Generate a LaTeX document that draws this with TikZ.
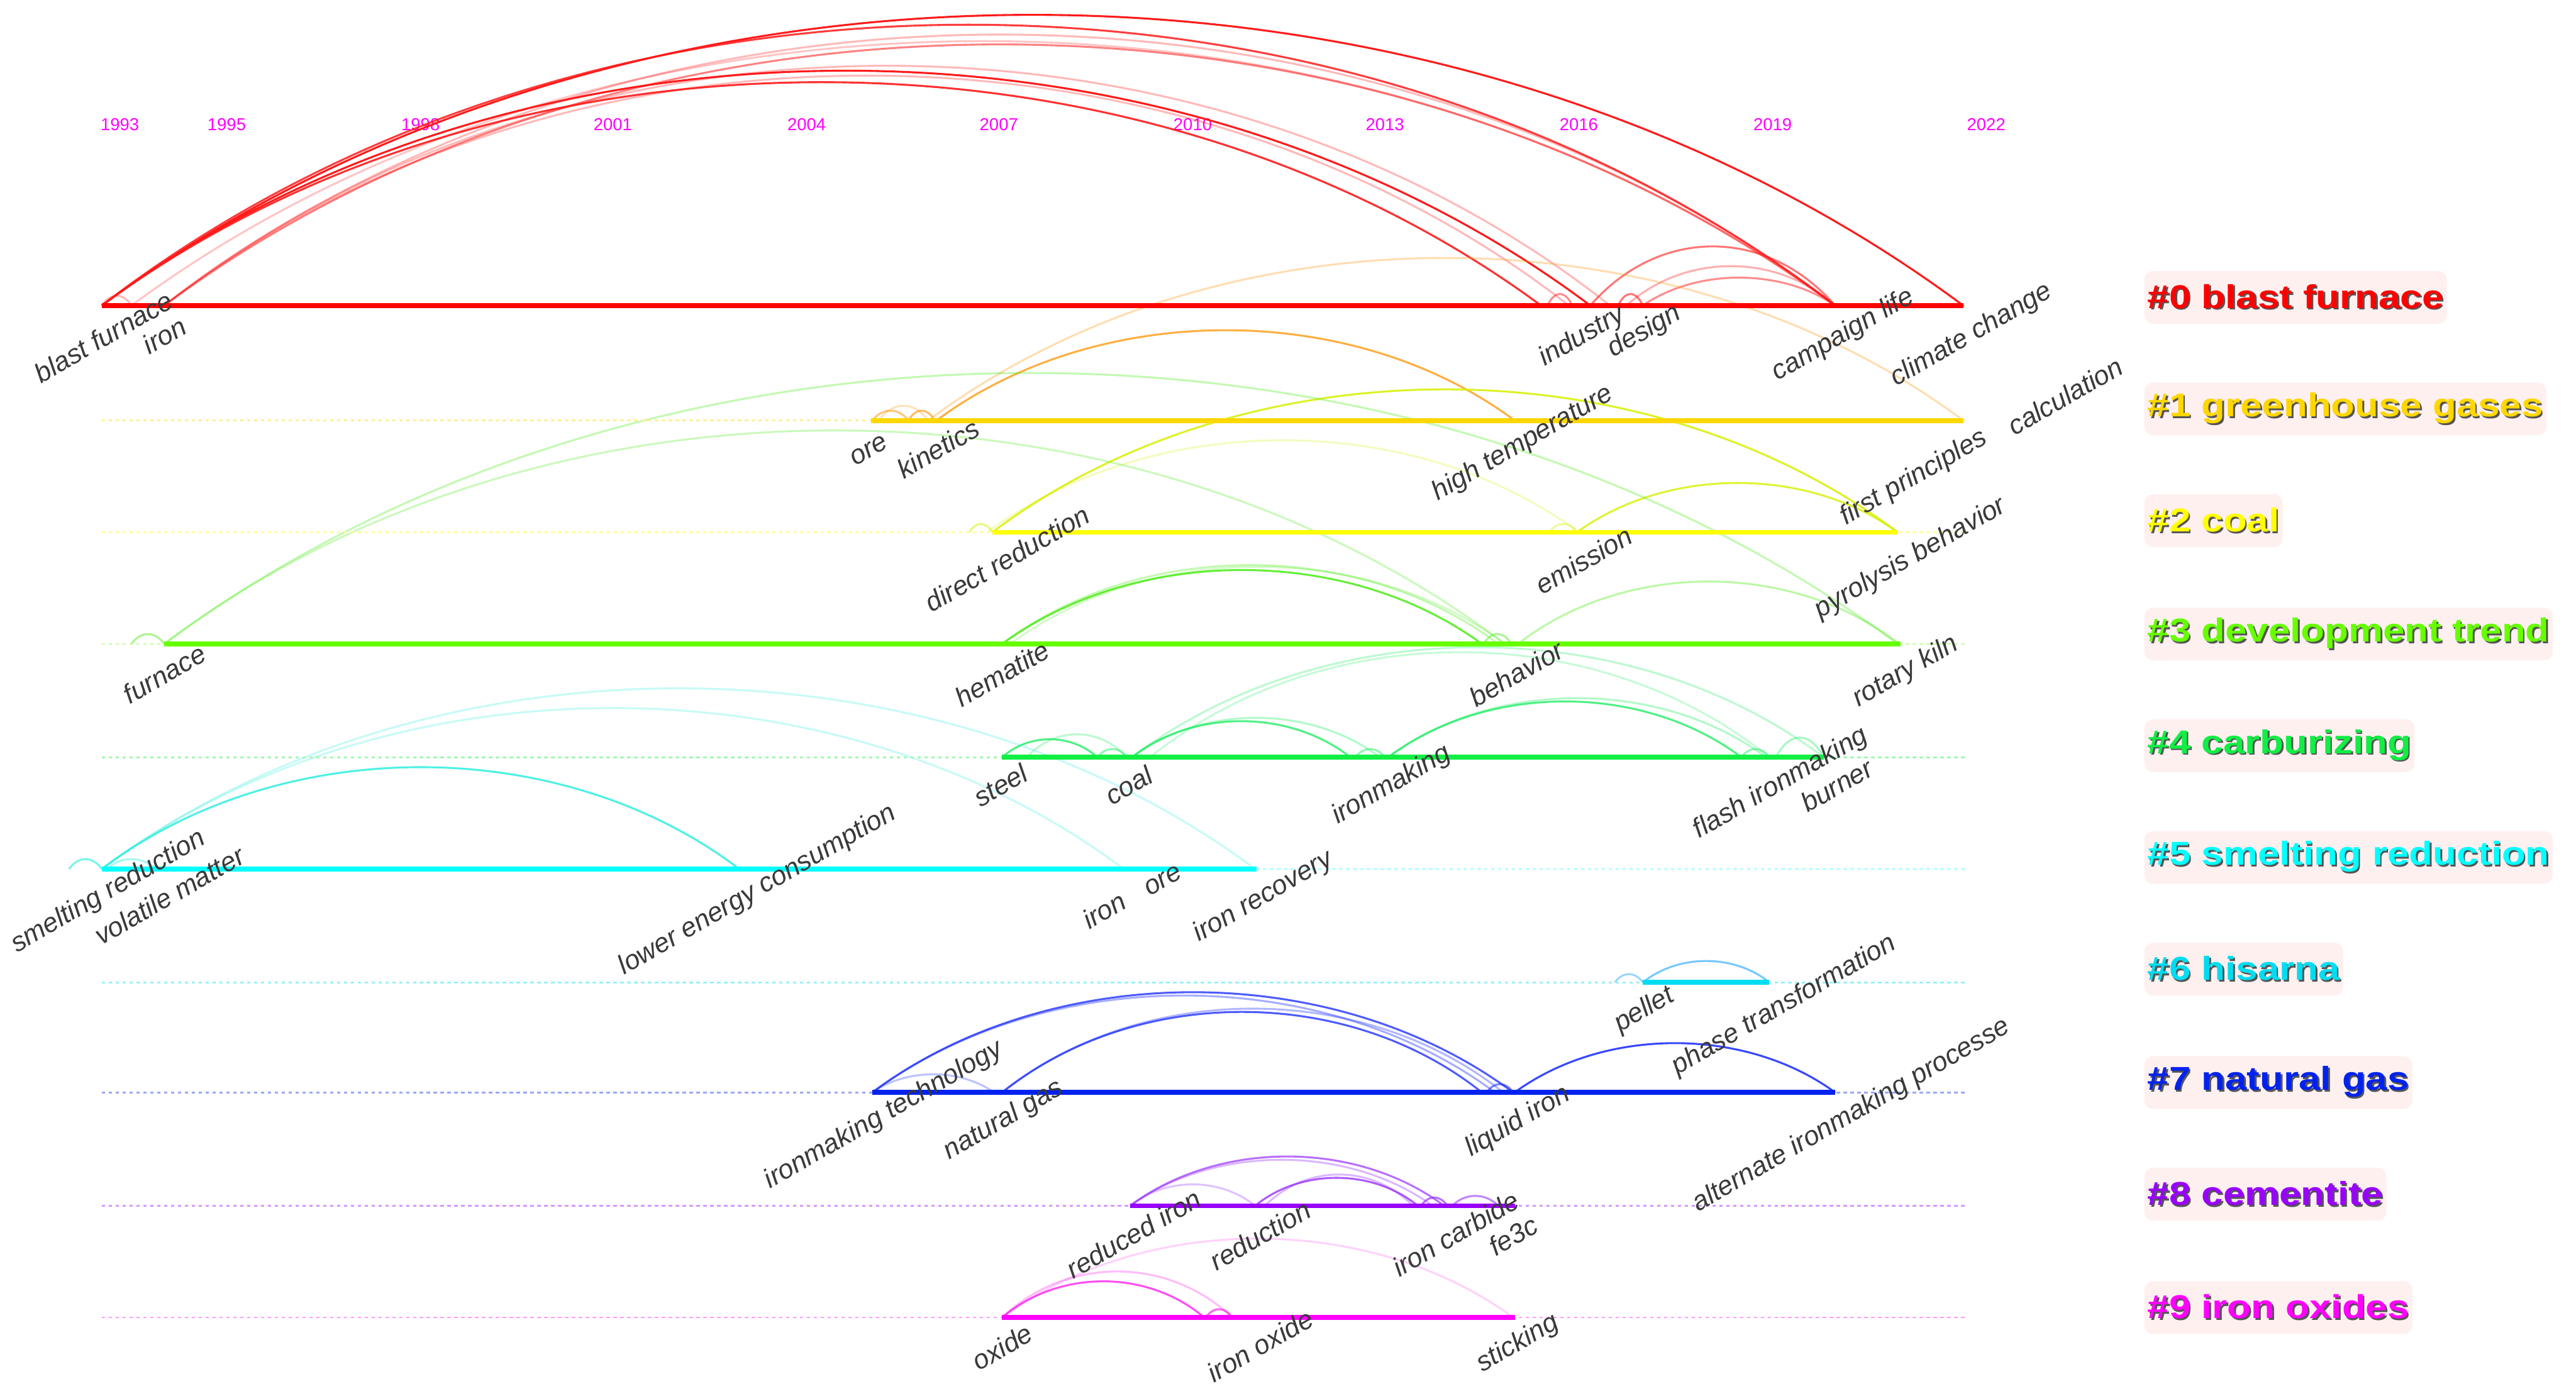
\documentclass[tikz,border=0pt]{standalone}
\usepackage{fontspec}
\setmainfont{Liberation Sans}
\setsansfont{Liberation Sans}
\usepackage{xcolor}
\usepackage{graphicx}
\usetikzlibrary{calc}
% cluster colours (spine / label)
\definecolor{c0}{HTML}{FF0000}
\definecolor{c1}{HTML}{FFD700}
\definecolor{c2}{HTML}{FFFF00}
\definecolor{c3}{HTML}{66FF00}
\definecolor{c4}{HTML}{11EE44}
\definecolor{c5}{HTML}{00FFFF}
\definecolor{c6}{HTML}{00DDF0}
\definecolor{c7}{HTML}{0022EE}
\definecolor{c8}{HTML}{9900FF}
\definecolor{c9}{HTML}{FF00FF}
% arc colours
\definecolor{a0}{HTML}{FF1A1A}
\definecolor{a1}{HTML}{FFA020}
\definecolor{a2}{HTML}{D8F000}
\definecolor{a3}{HTML}{55EE22}
\definecolor{a4}{HTML}{22EE66}
\definecolor{a5}{HTML}{22EEDD}
\definecolor{a6}{HTML}{55BBFF}
\definecolor{a7}{HTML}{2233FF}
\definecolor{a8}{HTML}{9933FF}
\definecolor{a9}{HTML}{FF22EE}
\definecolor{labelbg}{HTML}{FFF0F0}
\definecolor{shadowgray}{HTML}{555555}
\definecolor{wordgray}{HTML}{3A3A3A}
\definecolor{yearpink}{HTML}{FF00FF}
\newcommand{\clabel}[2]{\scalebox{1}[0.85]{\rlap{\hspace{0.8pt}\raisebox{-0.8pt}{\color{shadowgray}#2}}\textcolor{#1}{#2}}}
% arcs of one timeline: #1 row, #2 colour, #3 list x1/x2/height/opacity
\newcommand{\timearcs}[3]{%
  \foreach \xa/\xb/\h/\op in {#3}
    \draw[tlarc, draw=#2, draw opacity=\op] (\xa,#1)
      .. controls ({\xa+0.28*(\xb-\xa)},{#1-1.333*\h}) and ({\xb-0.28*(\xb-\xa)},{#1-1.333*\h}) .. (\xb,#1);
}
\tikzset{
  tlarc/.style={line width=0.9pt},
  spine/.style={line width=2.2pt},
  guide/.style={line width=0.8pt, dash pattern=on 1.6pt off 1.6pt},
  kword/.style={rotate=30, text=wordgray, inner sep=0pt,
    font=\fontsize{12.5}{14}\selectfont\itshape},
  year/.style={text=yearpink, inner sep=0pt, font=\fontsize{8}{9}\selectfont},
  cluster/.style={anchor=west, fill=labelbg, rounded corners=4pt,
    inner xsep=1.5pt, inner ysep=0pt, minimum height=0.86cm,
    font=\fontsize{18}{20}\selectfont\bfseries},
}
\begin{document}
\begin{tikzpicture}[x=0.026726cm, y=-0.026726cm]
  \fill[white] (0,0) rectangle (1568,846.5);
  \useasboundingbox (0,0) rectangle (1568,846.5);

  % years
  \foreach \x/\yr in {73/1993,138/1995,256/1998,373/2001,491/2004,608/2007,726/2010,843/2013,961/2016,1079/2019,1209/2022}
    \node[year] (y\yr) at (\x,76) {\yr};

  % arcs
  \timearcs{186}{a0}{62/1195/177/1, 62/1117/171/0.85, 100/1117/165/0.3, 80/1117/161/0.25, 100/1117/159/0.55, 100/980/146/0.3, 62/968/143/1, 100/955/140/0.3, 62/938/136/0.9, 968/1117/36/0.6, 990/1117/24/0.35, 1000/1117/17/0.5, 942/957/7/0.5, 985/1000/7/0.6, 62/80/6/0.3}
  \timearcs{256}{a1}{570/922/55/0.85, 565/1195/99/0.35, 531/553/6/0.6, 553/569/6/0.7, 535/565/9/0.3}
  \timearcs{324}{a2}{604/1155/87/0.85, 601/961/56/0.25, 960/1155/30/0.8, 590/604/5/0.5, 943/960/5/0.4}
  \timearcs{392}{a3}{100/1155/165/0.35, 100/916/130/0.3, 610/902/45/0.9, 610/912/48/0.35, 615/916/47/0.25, 924/1156/38/0.4, 80/100/6/0.5, 903/920/6/0.5}
  \timearcs{461}{a4}{610/668/11/0.8, 625/686/14/0.3, 668/686/5/0.5, 689/822/22/0.8, 689/840/24/0.35, 825/843/5/0.5, 845/1060/34/0.8, 845/1075/36/0.35, 689/1110/67/0.3, 700/1077/64/0.25, 1060/1077/5/0.5, 1081/1110/12/0.4}
  \timearcs{529}{a5}{62/450/62/0.8, 62/764/110/0.25, 62/684/98/0.25, 42/62/6/0.6, 65/95/6/0.4}
  \timearcs{598}{a6}{1000/1077/13/0.8, 983/1000/5/0.6}
  \timearcs{665}{a7}{531/921/61/0.8, 531/910/59/0.4, 610/902/49/0.8, 610/915/51/0.35, 531/605/11/0.3, 905/921/5/0.6, 922/1117/30/0.9}
  \timearcs{734}{a8}{688/879/30/0.7, 688/872/28/0.35, 688/764/13/0.3, 764/863/17/0.8, 770/860/19/0.35, 865/881/5/0.7, 884/912/6/0.6}
  \timearcs{802}{a9}{610/733/22/0.8, 610/750/28/0.3, 610/921/48/0.2, 734/750/5/0.7}

  % timelines
  \foreach \y/\col/\xa/\xb in {186/c0/62/1195,256/c1/530/1195,324/c2/604/1155,392/c3/100/1157,461/c4/610/1110,529/c5/62/765,598/c6/1000/1077,665/c7/531/1117,734/c8/688/922,802/c9/610/922} {
    \draw[guide, draw=\col!40] (62,\y) -- (1197,\y);
    \draw[spine, draw=\col] (\xa,\y) -- (\xb,\y);
  }

  % cluster labels
  \foreach \r/\y/\col/\t in {0/181/c0/blast furnace,1/249/c1/greenhouse gases,2/317/c2/coal,3/386/c3/development trend,4/454/c4/carburizing,5/522/c5/smelting reduction,6/590/c6/hisarna,7/659/c7/natural gas,8/727/c8/cementite,9/796/c9/iron oxides}
    \node[cluster] (lab\r) at (1305,\y) {\clabel{\col}{\#\r\ \t}};

  % keywords
  \foreach \x/\y/\t [count=\i] in {63/205/blast furnace, 100/204/iron, 963/205/industry, 1001/202/design, 1122/204/campaign life, 1200/204/climate change,
      529/274/ore, 571/273/kinetics, 927/270/high temperature, 1257/241/calculation, 1165/291/first principles,
      613/340/direct reduction, 964/341/emission, 1163/340/pyrolysis behavior,
      100/410/furnace, 610/410/hematite, 923/410/behavior, 1160/409/rotary kiln,
      609/478/steel, 687/478/coal, 847/478/ironmaking, 1084/477/flash ironmaking, 1118/478/burner,
      66/543/smelting reduction, 103/545/volatile matter, 461/542/lower energy consumption, 672/554/iron, 708/536/ore, 769/546/iron recovery,
      1001/615/pellet, 1086/612/phase transformation,
      538/679/ironmaking technology, 611/682/natural gas, 924/683/liquid iron, 1127/679/alternate ironmaking processe,
      690/751/reduced iron, 767/752/reduction, 886/751/iron carbide, 921/752/fe3c,
      610/820/oxide, 767/819/iron oxide, 924/818/sticking}
    \node[kword] (kw\i) at (\x,\y) {\t};
\end{tikzpicture}
\end{document}
